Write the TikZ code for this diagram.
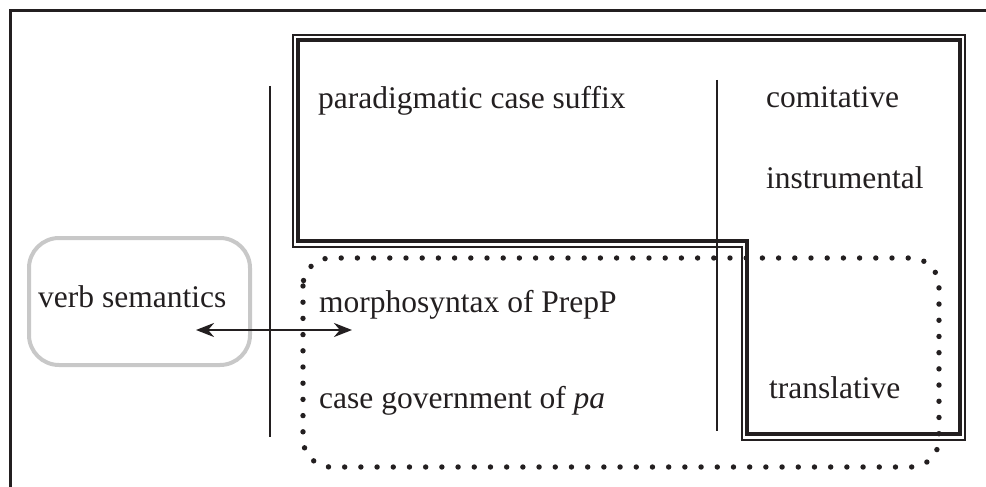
\documentclass[tikz,border=0pt]{standalone}
\usepackage{fontspec}
\setmainfont{Liberation Serif}
\usetikzlibrary{arrows.meta, positioning}
\definecolor{cgblack}{RGB}{35, 31, 32}
\definecolor{cggray}{RGB}{200, 200, 200}

\tikzset{
  label/.style={anchor=base west, inner sep=0pt, text=cgblack,
    font=\fontsize{31.5}{36}\selectfont},
  divider/.style={cgblack, line width=2.6pt},
  dotbox/.style={cgblack, line width=5.4pt, line cap=round,
    dash pattern=on 0pt off 16.2pt, rounded corners=28pt},
}

\begin{document}
\begin{tikzpicture}[x=1pt, y=-1pt, >={Stealth[length=18pt, width=14pt]}]
  \useasboundingbox (0,0) rectangle (986,487);

  % --- frame ---
  \draw[cgblack, line width=3pt] (10,490) -- (10,11) -- (990,11);

  % --- paradigmatic region (double outline) ---
  \draw[cgblack, line width=1.3pt]
    (293,35) -- (965,35) -- (965,440) -- (742,440) -- (742,247) -- (293,247) -- cycle;
  \draw[cgblack, line width=4.8pt]
    (298,40) -- (960,40) -- (960,434) -- (747,434) -- (747,241) -- (298,241) -- cycle;

  % --- syntactic region (dotted) ---
  \draw[dotbox] (303,258) rectangle (939,467);

  % --- verb semantics box ---
  \draw[cggray, line width=4pt, rounded corners=30pt] (29,238) rectangle (250,365);

  % --- dividers ---
  \draw[divider] (270,86) -- (270,437);
  \draw[divider] (717,80) -- (717,431);

  % --- labels ---
  \node[label] (verb) at (38,307) {verb semantics};
  \node[label] (suffix) at (318,109) {paradigmatic case suffix};
  \node[label] (morpho) at (319,312) {morphosyntax of PrepP};
  \node[label] (govern) at (319,408) {case government of \textit{pa}};
  \node[label] (comit) at (766,107) {comitative};
  \node[label] (instr) at (766,188) {instrumental};
  \node[label] (trans) at (769,398) {translative};

  % --- interaction arrow ---
  \coordinate (semend) at (196,330);
  \coordinate (synend) at (352,330);
  \draw[<->, cgblack, line width=2.6pt] (semend) -- (synend);

\end{tikzpicture}
\end{document}
